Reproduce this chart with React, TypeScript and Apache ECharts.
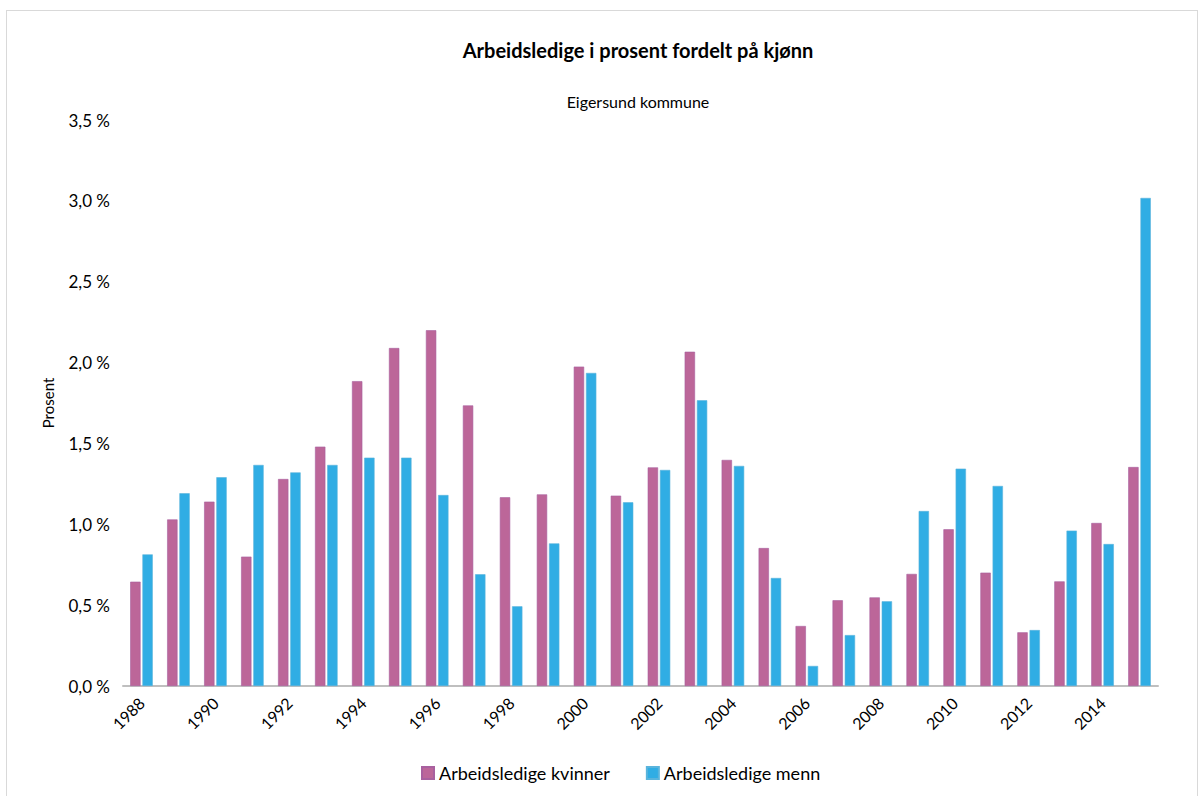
import React, { useEffect, useRef } from "react";
import * as echarts from "echarts";

const years = ["1988","1989","1990","1991","1992","1993","1994","1995","1996","1997","1998","1999","2000","2001","2002","2003","2004","2005","2006","2007","2008","2009","2010","2011","2012","2013","2014","2015"];
const kvinner = [0.645,1.03,1.14,0.80,1.28,1.48,1.885,2.09,2.20,1.735,1.167,1.185,1.975,1.177,1.352,2.067,1.398,0.853,0.371,0.53,0.548,0.693,0.969,0.701,0.332,0.647,1.008,1.354];
const menn = [0.814,1.192,1.291,1.367,1.321,1.367,1.412,1.412,1.181,0.691,0.493,0.882,1.936,1.136,1.336,1.767,1.361,0.668,0.124,0.315,0.524,1.082,1.344,1.237,0.346,0.961,0.878,3.018];

const FONT = "Lato, 'Open Sans', sans-serif";

export default function App() {
  const ref = useRef<HTMLDivElement>(null);
  useEffect(() => {
    if (!ref.current) return;
    const chart = echarts.init(ref.current, undefined, { renderer: "svg" });
    chart.setOption({
      animation: false,
      backgroundColor: "#ffffff",
      title: [
        {
          text: "Arbeidsledige i prosent fordelt på kjønn",
          left: 626,
          top: 24,
          textAlign: "center",
          textStyle: { fontFamily: FONT, fontSize: 20, fontWeight: "bold", color: "#000" },
        },
        {
          text: "Eigersund kommune",
          left: 626,
          top: 77,
          textAlign: "center",
          textStyle: { fontFamily: FONT, fontSize: 16, fontWeight: "normal", color: "#000" },
        },
      ],
      legend: {
        bottom: 22,
        left: 409,
        itemWidth: 12,
        itemHeight: 12,
        itemGap: 36,
        icon: "rect",
        textStyle: { fontFamily: FONT, fontSize: 18, color: "#000" },
        data: ["Arbeidsledige kvinner", "Arbeidsledige menn"],
      },
      grid: { left: 116, top: 109, width: 1035, height: 566 },
      xAxis: {
        type: "category",
        data: years,
        axisLine: { lineStyle: { color: "#BFBFBF", width: 2 } },
        axisTick: { show: false },
        axisLabel: {
          interval: 1,
          rotate: 45,
          fontFamily: FONT,
          fontSize: 16,
          color: "#000",
          margin: 14,
        },
      },
      yAxis: {
        type: "value",
        min: 0,
        max: 3.5,
        interval: 0.5,
        name: "Prosent",
        nameLocation: "middle",
        nameGap: 68,
        nameRotate: 90,
        nameTextStyle: { fontFamily: FONT, fontSize: 15, color: "#000" },
        splitLine: { show: false },
        axisLine: { show: false },
        axisTick: { show: false },
        axisLabel: {
          fontFamily: FONT,
          fontSize: 17,
          color: "#000",
          margin: 13,
          formatter: (v: number) => v.toFixed(1).replace(".", ",") + " %",
        },
      },
      series: [
        {
          name: "Arbeidsledige kvinner",
          type: "bar",
          data: kvinner,
          barWidth: "28%",
          barGap: "18%",
          itemStyle: { color: "#BC6699", borderColor: "#A8609F", borderWidth: 0.6 },
        },
        {
          name: "Arbeidsledige menn",
          type: "bar",
          data: menn,
          barWidth: "28%",
          itemStyle: { color: "#30ADE4", borderColor: "#5AB4DC", borderWidth: 0.6 },
        },
      ],
    });
    return () => chart.dispose();
  }, []);
  return (
    <div
      ref={ref}
      style={{
        position: "absolute",
        left: 6,
        top: 10,
        width: 1192,
        height: 800,
        border: "1px solid #D9D9D9",
        boxSizing: "border-box",
      }}
    />
  );
}
